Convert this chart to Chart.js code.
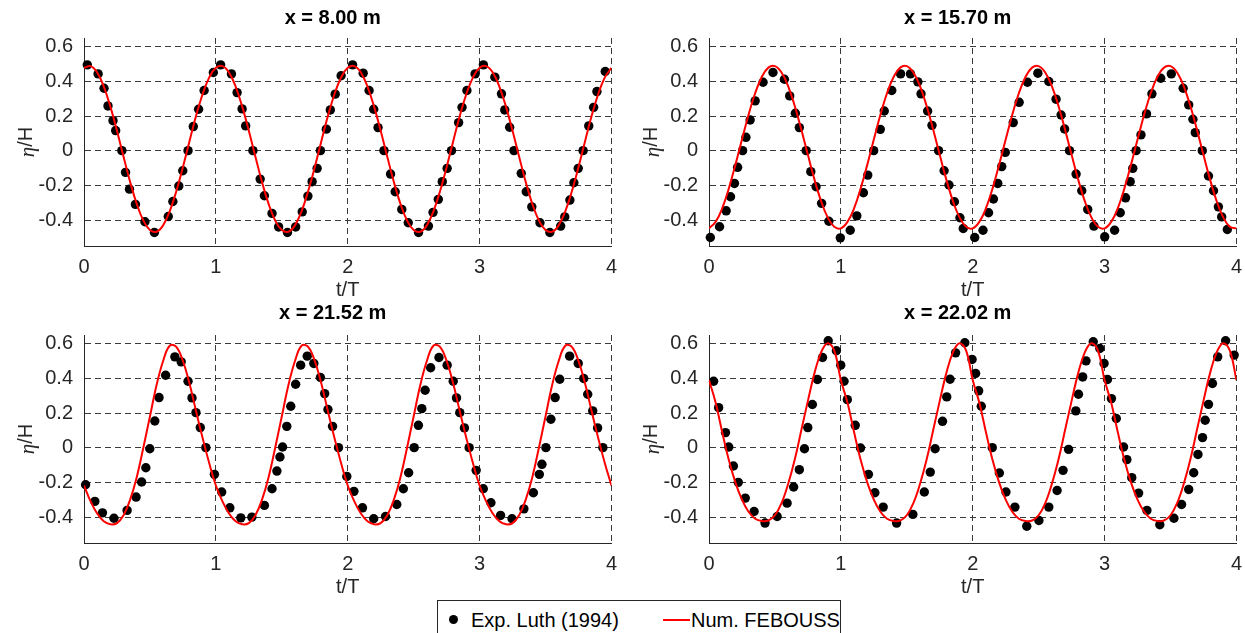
<!DOCTYPE html>
<html>
<head>
<meta charset="utf-8">
<script src="https://cdn.jsdelivr.net/npm/chart.js@4.4.0/dist/chart.umd.min.js"></script>
<style>
html, body { margin: 0; padding: 0; background: #fff; overflow: hidden; width: 1245px; height: 633px; }
.panel { position: absolute; }
#legend { position: absolute; left: 437px; top: 600px; width: 404px; height: 50px; box-sizing: border-box;
  border: 1px solid #262626; background: #fff; font: 20px 'Liberation Sans', Arial, sans-serif; color: #000; }
#legend span { position: absolute; white-space: nowrap; line-height: 24px; }
</style>
</head>
<body>
<div class="panel" style="left:0px;top:0px;width:626px;height:302px"><canvas id="c1"></canvas></div>
<div class="panel" style="left:625px;top:0px;width:626px;height:302px"><canvas id="c2"></canvas></div>
<div class="panel" style="left:0px;top:295px;width:626px;height:304px"><canvas id="c3"></canvas></div>
<div class="panel" style="left:625px;top:295px;width:626px;height:304px"><canvas id="c4"></canvas></div>
<div id="legend">
  <div style="position:absolute;left:11px;top:14px;width:9px;height:9px;border-radius:50%;background:#000"></div>
  <span style="left:33px;top:7px">Exp. Luth (1994)</span>
  <div style="position:absolute;left:225px;top:18px;width:27px;height:2px;background:#ff0000"></div>
  <span style="left:253px;top:7px">Num. FEBOUSS</span>
</div>
<script>
// axes
var xTicks = [0, 1, 2, 3, 4];
var xTickLabels = ['0', '1', '2', '3', '4'];
var yTicks = [-0.4, -0.2, 0, 0.2, 0.4, 0.6];
var yTickLabels = ['-0.4', '-0.2', '0', '0.2', '0.4', '0.6'];
var titles = ['x = 8.00 m', 'x = 15.70 m', 'x = 21.52 m', 'x = 22.02 m'];

// time samples of the numerical curves (t/T)
var tLine = [0, 0.05, 0.1, 0.15, 0.2, 0.25, 0.3, 0.35, 0.4, 0.45, 0.5, 0.55, 0.6, 0.65, 0.7, 0.75, 0.8, 0.85, 0.9, 0.95,
  1, 1.05, 1.1, 1.15, 1.2, 1.25, 1.3, 1.35, 1.4, 1.45, 1.5, 1.55, 1.6, 1.65, 1.7, 1.75, 1.8, 1.85, 1.9, 1.95,
  2, 2.05, 2.1, 2.15, 2.2, 2.25, 2.3, 2.35, 2.4, 2.45, 2.5, 2.55, 2.6, 2.65, 2.7, 2.75, 2.8, 2.85, 2.9, 2.95,
  3, 3.05, 3.1, 3.15, 3.2, 3.25, 3.3, 3.35, 3.4, 3.45, 3.5, 3.55, 3.6, 3.65, 3.7, 3.75, 3.8, 3.85, 3.9, 3.95, 4];

// Num. FEBOUSS
var num1 = [0.478, 0.488, 0.451, 0.370, 0.254, 0.115, -0.035, -0.181, -0.307, -0.403, -0.458, -0.468, -0.431, -0.350, -0.234, -0.095, 0.055, 0.201, 0.327, 0.423,
  0.478, 0.488, 0.451, 0.370, 0.254, 0.115, -0.035, -0.181, -0.307, -0.403, -0.458, -0.468, -0.431, -0.350, -0.234, -0.095, 0.055, 0.201, 0.327, 0.423,
  0.478, 0.488, 0.451, 0.370, 0.254, 0.115, -0.035, -0.181, -0.307, -0.403, -0.458, -0.468, -0.431, -0.350, -0.234, -0.095, 0.055, 0.201, 0.327, 0.423,
  0.478, 0.488, 0.451, 0.370, 0.254, 0.115, -0.035, -0.181, -0.307, -0.403, -0.458, -0.468, -0.431, -0.350, -0.234, -0.095, 0.055, 0.201, 0.327, 0.423, 0.478];
var num2 = [-0.448, -0.411, -0.333, -0.219, -0.082, 0.064, 0.207, 0.331, 0.425, 0.479, 0.488, 0.451, 0.373, 0.259, 0.122, -0.024, -0.167, -0.291, -0.385, -0.439,
  -0.448, -0.411, -0.333, -0.219, -0.082, 0.064, 0.207, 0.331, 0.425, 0.479, 0.488, 0.451, 0.373, 0.259, 0.122, -0.024, -0.167, -0.291, -0.385, -0.439,
  -0.448, -0.411, -0.333, -0.219, -0.082, 0.064, 0.207, 0.331, 0.425, 0.479, 0.488, 0.451, 0.373, 0.259, 0.122, -0.024, -0.167, -0.291, -0.385, -0.439,
  -0.448, -0.411, -0.333, -0.219, -0.082, 0.064, 0.207, 0.331, 0.425, 0.479, 0.488, 0.451, 0.373, 0.259, 0.122, -0.024, -0.167, -0.291, -0.385, -0.439, -0.448];
var num3 = [-0.218, -0.31, -0.38, -0.425, -0.442, -0.435, -0.39, -0.30, -0.17, 0.0, 0.18, 0.36, 0.50, 0.588, 0.582, 0.50, 0.37, 0.21, 0.055, -0.09,
  -0.218, -0.31, -0.38, -0.425, -0.442, -0.435, -0.39, -0.30, -0.17, 0.0, 0.18, 0.36, 0.50, 0.588, 0.582, 0.50, 0.37, 0.21, 0.055, -0.09,
  -0.218, -0.31, -0.38, -0.425, -0.442, -0.435, -0.39, -0.30, -0.17, 0.0, 0.18, 0.36, 0.50, 0.588, 0.582, 0.50, 0.37, 0.21, 0.055, -0.09,
  -0.218, -0.31, -0.38, -0.425, -0.442, -0.435, -0.39, -0.30, -0.17, 0.0, 0.18, 0.36, 0.50, 0.588, 0.582, 0.50, 0.37, 0.21, 0.055, -0.09, -0.218];
var num4 = [0.39, 0.26, 0.09, -0.07, -0.20, -0.30, -0.37, -0.41, -0.423, -0.42, -0.39, -0.32, -0.21, -0.07, 0.10, 0.27, 0.43, 0.55, 0.603, 0.56,
  0.39, 0.26, 0.09, -0.07, -0.20, -0.30, -0.37, -0.41, -0.423, -0.42, -0.39, -0.32, -0.21, -0.07, 0.10, 0.27, 0.43, 0.55, 0.603, 0.56,
  0.39, 0.26, 0.09, -0.07, -0.20, -0.30, -0.37, -0.41, -0.423, -0.42, -0.39, -0.32, -0.21, -0.07, 0.10, 0.27, 0.43, 0.55, 0.603, 0.56,
  0.39, 0.26, 0.09, -0.07, -0.20, -0.30, -0.37, -0.41, -0.423, -0.42, -0.39, -0.32, -0.21, -0.07, 0.10, 0.27, 0.43, 0.55, 0.603, 0.56, 0.39];

// Exp. Luth (1994)
var tExp1 = [0.025, 0.107, 0.152, 0.182, 0.22, 0.24, 0.287, 0.315, 0.345, 0.39, 0.462, 0.534, 0.639, 0.674, 0.719, 0.749, 0.789, 0.829, 0.869, 0.911, 0.981,
  1.036, 1.118, 1.161, 1.199, 1.226, 1.281, 1.336, 1.368, 1.426, 1.476, 1.543, 1.605, 1.655, 1.698, 1.73, 1.768, 1.793, 1.838, 1.868, 1.905, 1.950,
  2.037, 2.117, 2.162, 2.197, 2.230, 2.275, 2.325, 2.360, 2.410, 2.459, 2.537, 2.612, 2.647, 2.687, 2.717, 2.754, 2.787, 2.841, 2.867, 2.904, 2.966,
  3.029, 3.116, 3.166, 3.191, 3.228, 3.261, 3.316, 3.354, 3.396, 3.458, 3.533, 3.615, 3.646, 3.685, 3.715, 3.748, 3.785, 3.828, 3.865, 3.890, 3.953];
var exp1 = [0.495, 0.443, 0.36, 0.258, 0.173, 0.116, 0, -0.125, -0.222, -0.31, -0.41, -0.472, -0.38, -0.293, -0.204, -0.116, 0, 0.139, 0.239, 0.347, 0.451,
  0.495, 0.443, 0.335, 0.241, 0.143, 0, -0.164, -0.26, -0.362, -0.44, -0.472, -0.44, -0.353, -0.262, -0.179, -0.102, 0, 0.124, 0.235, 0.326, 0.432,
  0.495, 0.447, 0.347, 0.239, 0.133, 0, -0.135, -0.237, -0.339, -0.416, -0.472, -0.435, -0.356, -0.281, -0.179, -0.102, 0, 0.162, 0.25, 0.347, 0.443,
  0.495, 0.424, 0.328, 0.235, 0.135, 0, -0.131, -0.237, -0.324, -0.416, -0.472, -0.435, -0.382, -0.285, -0.185, -0.102, 0, 0.143, 0.25, 0.341, 0.457];

var tExp2 = [0.010, 0.080, 0.130, 0.163, 0.193, 0.217, 0.255, 0.280, 0.312, 0.350, 0.410, 0.485, 0.572, 0.612, 0.655, 0.685, 0.737, 0.772, 0.812, 0.854, 0.909,
  0.996, 1.071, 1.121, 1.171, 1.204, 1.249, 1.299, 1.329, 1.386, 1.453, 1.528, 1.584, 1.608, 1.658, 1.691, 1.741, 1.783, 1.820, 1.861, 1.903, 1.928,
  2.015, 2.078, 2.120, 2.157, 2.190, 2.220, 2.247, 2.307, 2.352, 2.415, 2.494, 2.577, 2.632, 2.670, 2.697, 2.734, 2.784, 2.827, 2.872, 2.919,
  3.001, 3.076, 3.119, 3.159, 3.194, 3.214, 3.239, 3.276, 3.318, 3.359, 3.426, 3.506, 3.596, 3.638, 3.670, 3.688, 3.741, 3.788, 3.826, 3.863, 3.888, 3.931];
var exp2 = [-0.501, -0.439, -0.347, -0.266, -0.189, -0.096, 0, 0.077, 0.177, 0.287, 0.395, 0.451, 0.412, 0.316, 0.216, 0.133, 0, -0.121, -0.208, -0.304, -0.407,
  -0.503, -0.459, -0.376, -0.243, -0.141, 0, 0.123, 0.229, 0.347, 0.443, 0.443, 0.397, 0.328, 0.229, 0.146, 0, -0.116, -0.198, -0.295, -0.387, -0.449,
  -0.501, -0.459, -0.358, -0.279, -0.189, -0.092, -0.010, 0.162, 0.279, 0.395, 0.447, 0.399, 0.297, 0.206, 0.125, 0, -0.135, -0.231, -0.339, -0.435,
  -0.497, -0.459, -0.358, -0.272, -0.179, -0.102, 0, 0.091, 0.212, 0.328, 0.418, 0.443, 0.360, 0.264, 0.181, 0.104, 0, -0.146, -0.231, -0.324, -0.382, -0.455];

var tExp3 = [0.012, 0.082, 0.140, 0.227, 0.327, 0.395, 0.437, 0.469, 0.499, 0.537, 0.569, 0.619, 0.689, 0.737, 0.789, 0.819, 0.849, 0.882, 0.924, 0.989,
  1.044, 1.106, 1.189, 1.273, 1.368, 1.426, 1.463, 1.486, 1.506, 1.538, 1.568, 1.605, 1.643, 1.693, 1.743, 1.793, 1.825, 1.850, 1.885, 1.930, 1.993,
  2.047, 2.112, 2.197, 2.287, 2.372, 2.422, 2.462, 2.504, 2.536, 2.562, 2.587, 2.629, 2.692, 2.754, 2.800, 2.825, 2.850, 2.885, 2.921, 2.974,
  3.028, 3.086, 3.159, 3.246, 3.336, 3.408, 3.453, 3.473, 3.503, 3.541, 3.573, 3.608, 3.683, 3.748, 3.790, 3.820, 3.858, 3.895, 3.935];
var exp3 = [-0.214, -0.310, -0.376, -0.407, -0.362, -0.285, -0.198, -0.116, -0.006, 0.154, 0.289, 0.418, 0.524, 0.495, 0.383, 0.287, 0.202, 0.116, 0, -0.154,
  -0.256, -0.347, -0.405, -0.401, -0.333, -0.237, -0.135, -0.054, 0.004, 0.123, 0.239, 0.366, 0.476, 0.528, 0.486, 0.405, 0.312, 0.220, 0.123, 0, -0.166,
  -0.252, -0.347, -0.410, -0.397, -0.328, -0.237, -0.145, 0, 0.129, 0.225, 0.331, 0.461, 0.520, 0.476, 0.383, 0.287, 0.202, 0.114, 0, -0.131,
  -0.237, -0.318, -0.391, -0.410, -0.353, -0.260, -0.154, -0.096, 0, 0.164, 0.289, 0.395, 0.528, 0.486, 0.399, 0.308, 0.212, 0.114, 0];

var tExp4 = [0.035, 0.073, 0.125, 0.150, 0.185, 0.222, 0.275, 0.342, 0.425, 0.517, 0.592, 0.642, 0.685, 0.724, 0.749, 0.784, 0.822, 0.861, 0.904, 0.966, 0.999,
  1.024, 1.049, 1.109, 1.149, 1.209, 1.258, 1.321, 1.423, 1.546, 1.633, 1.678, 1.715, 1.771, 1.803, 1.828, 1.870, 1.940, 1.995,
  2.022, 2.045, 2.065, 2.148, 2.202, 2.252, 2.320, 2.410, 2.502, 2.577, 2.640, 2.685, 2.727, 2.782, 2.802, 2.834, 2.859, 2.914, 2.964, 2.996,
  3.022, 3.052, 3.089, 3.144, 3.169, 3.206, 3.258, 3.321, 3.419, 3.526, 3.584, 3.638, 3.676, 3.708, 3.743, 3.763, 3.788, 3.818, 3.858, 3.918, 3.983];
var exp4 = [0.383, 0.231, 0.087, 0.004, -0.106, -0.200, -0.291, -0.368, -0.435, -0.397, -0.320, -0.227, -0.127, -0.006, 0.116, 0.249, 0.393, 0.520, 0.617, 0.559, 0.476,
  0.383, 0.277, 0.129, -0.002, -0.154, -0.260, -0.343, -0.435, -0.385, -0.256, -0.141, -0.006, 0.152, 0.293, 0.395, 0.547, 0.605, 0.509,
  0.428, 0.328, 0.239, 0, -0.146, -0.256, -0.343, -0.453, -0.420, -0.343, -0.247, -0.131, -0.010, 0.212, 0.308, 0.408, 0.501, 0.611, 0.572, 0.486,
  0.393, 0.283, 0.168, 0.004, -0.069, -0.173, -0.262, -0.362, -0.445, -0.407, -0.328, -0.241, -0.145, -0.039, 0.058, 0.158, 0.250, 0.370, 0.524, 0.617, 0.534];

var FONT = "'Liberation Sans', Arial, Helvetica, sans-serif";
var SERIF = "'Liberation Serif', 'DejaVu Serif', serif";
var AXIS = '#262626';

function pairs(xs, ys) {
  return xs.map(function (x, i) { return { x: x, y: ys[i] }; });
}

// eta/H with an italic eta like the TeX label, and the bold panel title
// (MATLAB puts it a bit left of the axes centre)
var labels = {
  id: 'labels',
  afterDraw: function (chart, args, opts) {
    var ctx = chart.ctx, area = chart.chartArea;
    var cy = (area.top + area.bottom) / 2;
    ctx.save();
    ctx.fillStyle = '#000';
    ctx.textAlign = 'center';
    ctx.textBaseline = 'middle';
    ctx.font = 'bold 20px ' + FONT;
    ctx.fillText(opts.text, (area.left + area.right) / 2 - 15, 18);

    ctx.translate(26, cy);
    ctx.rotate(-Math.PI / 2);
    ctx.fillStyle = AXIS;
    ctx.textAlign = 'left';
    ctx.font = 'italic 21px ' + SERIF;
    var wa = ctx.measureText('η').width;
    ctx.font = '20px ' + FONT;
    var wb = ctx.measureText('/H').width;
    var x = -(wa + wb) / 2;
    ctx.font = 'italic 21px ' + SERIF;
    ctx.fillText('η', x, 2);
    ctx.font = '20px ' + FONT;
    ctx.fillText('/H', x + wa, 0);
    ctx.restore();
  }
};

function makeChart(id, title, tExp, exp, num, top) {
  return new Chart(document.getElementById(id), {
    type: 'scatter',
    data: {
      datasets: [
        { data: pairs(tLine, num), showLine: true, borderColor: '#ff0000', borderWidth: 2,
          pointRadius: 0, tension: 0.4, order: 0 },
        { data: pairs(tExp, exp), backgroundColor: '#000', borderColor: '#000', borderWidth: 0,
          pointRadius: 4.7, clip: false, order: 1 }
      ]
    },
    options: {
      responsive: true, maintainAspectRatio: false, animation: false, events: [],
      layout: { padding: { left: 0, right: 8, top: top, bottom: 0 } },
      plugins: {
        legend: { display: false },
        tooltip: { enabled: false },
        title: { display: false },
        labels: { text: title }
      },
      scales: {
        x: {
          type: 'linear', min: 0, max: 4,
          afterBuildTicks: function (s) { s.ticks = xTicks.map(function (v) { return { value: v }; }); },
          afterFit: function (s) { s.height = 56; },
          ticks: { autoSkip: false, maxRotation: 0, padding: 9, color: AXIS,
            font: { family: FONT, size: 20 },
            callback: function (v, i) { return xTickLabels[i]; } },
          grid: { color: '#3a3a3a', lineWidth: 1, drawTicks: false },
          border: { display: true, color: AXIS, width: 1, dash: [6, 4] },
          title: { display: true, text: 't/T', color: AXIS, font: { family: FONT, size: 20 }, padding: { top: 0, bottom: 0 } }
        },
        y: {
          type: 'linear', min: -0.55, max: 0.65,
          afterBuildTicks: function (s) { s.ticks = yTicks.map(function (v) { return { value: v }; }); },
          afterFit: function (s) { s.width = 84; },
          ticks: { autoSkip: false, padding: 11, color: AXIS,
            font: { family: FONT, size: 20 },
            callback: function (v, i) { return yTickLabels[i]; } },
          grid: { color: '#3a3a3a', lineWidth: 1, drawTicks: false },
          border: { display: true, color: AXIS, width: 1, dash: [6, 4] }
        }
      }
    },
    plugins: [labels]
  });
}

makeChart('c1', titles[0], tExp1, exp1, num1, 38);
makeChart('c2', titles[1], tExp2, exp2, num2, 38);
makeChart('c3', titles[2], tExp3, exp3, num3, 40);
makeChart('c4', titles[3], tExp4, exp4, num4, 40);
</script>
</body>
</html>
